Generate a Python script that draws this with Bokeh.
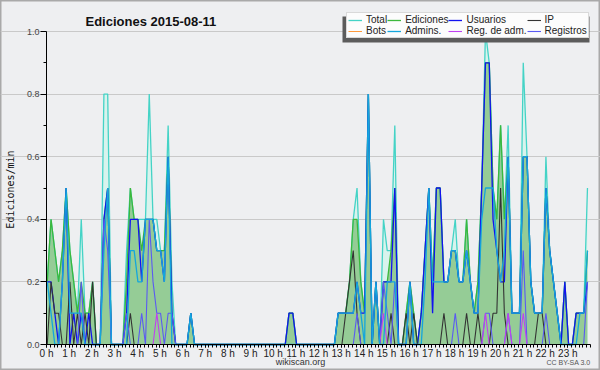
import math
from bokeh.plotting import figure
from bokeh.models import (Range1d, FixedTicker, PrintfTickFormatter, Legend, LegendItem,
                          Label, BoxAnnotation, LinearAxis, Grid)
from bokeh.embed import file_html
from bokeh.resources import INLINE

# ---------------- data: values per 10-minute slot, one row per hour ----------------
TITLE = "Ediciones  2015-08-11"
Y_LABEL = "Ediciones/min"
HOUR_LABELS = [f"{h} h" for h in range(24)]
Z = [0, 0, 0, 0, 0, 0]

TOTAL = [
    [0.2, 0.4, 0.3, 0.2, 0.3, 0.5], [0.3, 0.2, 0.1, 0.4, 0.1, 0.1],
    [0.2, 0.0, 0.0, 0.8, 0.8, 0.0], [0.0, 0.0, 0.0, 0.3, 0.5, 0.4],
    [0.4, 0.4, 0.4, 0.8, 0.4, 0.4], [0.3, 0.3, 0.7, 0.2, 0.0, 0.0],
    [0.0, 0.0, 0.1, 0.0, 0.0, 0.0], Z, Z, Z,
    [0.0, 0.0, 0.0, 0.0, 0.1, 0.1], Z,
    [0.0, 0.0, 0.0, 0.0, 0.0, 0.1], [0.1, 0.1, 0.2, 0.4, 0.5, 0.2],
    [0.1, 0.8, 0.0, 0.2, 0.0, 0.4], [0.3, 0.3, 0.7, 0.0, 0.0, 0.1],
    [0.2, 0.1, 0.0, 0.1, 0.3, 0.5], [0.2, 0.5, 0.5, 0.2, 0.2, 0.3],
    [0.4, 0.2, 0.2, 0.4, 0.2, 0.1], [0.2, 0.5, 1.0, 0.9, 0.5, 0.4],
    [0.7, 0.4, 0.7, 0.1, 0.1, 0.1], [0.9, 0.6, 0.2, 0.1, 0.1, 0.1],
    [0.6, 0.3, 0.2, 0.1, 0.0, 0.2], [0.0, 0.0, 0.1, 0.1, 0.1, 0.5],
]
EDICIONES = [
    [0.2, 0.4, 0.3, 0.2, 0.3, 0.5], [0.3, 0.2, 0.1, 0.2, 0.1, 0.1],
    [0.2, 0.0, 0.0, 0.4, 0.5, 0.0], [0.0, 0.0, 0.0, 0.2, 0.5, 0.4],
    [0.4, 0.3, 0.4, 0.4, 0.4, 0.3], [0.3, 0.3, 0.6, 0.1, 0.0, 0.0],
    [0.0, 0.0, 0.1, 0.0, 0.0, 0.0], Z, Z, Z,
    [0.0, 0.0, 0.0, 0.0, 0.1, 0.1], Z,
    [0.0, 0.0, 0.0, 0.0, 0.0, 0.1], [0.1, 0.1, 0.2, 0.4, 0.4, 0.2],
    [0.1, 0.8, 0.0, 0.2, 0.0, 0.2], [0.2, 0.3, 0.5, 0.0, 0.0, 0.1],
    [0.2, 0.1, 0.0, 0.1, 0.3, 0.5], [0.2, 0.5, 0.5, 0.2, 0.2, 0.3],
    [0.3, 0.2, 0.2, 0.4, 0.2, 0.1], [0.2, 0.5, 0.9, 0.9, 0.5, 0.4],
    [0.7, 0.4, 0.6, 0.1, 0.1, 0.1], [0.6, 0.6, 0.2, 0.1, 0.1, 0.1],
    [0.5, 0.3, 0.2, 0.1, 0.0, 0.2], [0.0, 0.0, 0.1, 0.1, 0.1, 0.3],
]
USUARIOS = [
    [0.2, 0.2, 0.1, 0.0, 0.2, 0.5], [0.0, 0.1, 0.0, 0.1, 0.0, 0.1],
    [0.0, 0.0, 0.0, 0.4, 0.5, 0.0], [0.0, 0.0, 0.0, 0.1, 0.4, 0.4],
    [0.4, 0.2, 0.4, 0.4, 0.4, 0.3], [0.3, 0.2, 0.6, 0.1, 0.0, 0.0],
    [0.0, 0.0, 0.1, 0.0, 0.0, 0.0], Z, Z, Z,
    [0.0, 0.0, 0.0, 0.0, 0.1, 0.1], Z,
    [0.0, 0.0, 0.0, 0.0, 0.0, 0.1], [0.1, 0.1, 0.1, 0.1, 0.2, 0.1],
    [0.1, 0.8, 0.0, 0.2, 0.0, 0.2], [0.2, 0.2, 0.5, 0.0, 0.0, 0.0],
    [0.2, 0.0, 0.0, 0.1, 0.3, 0.5], [0.1, 0.5, 0.5, 0.2, 0.2, 0.3],
    [0.3, 0.2, 0.2, 0.3, 0.2, 0.1], [0.1, 0.5, 0.9, 0.9, 0.4, 0.3],
    [0.2, 0.2, 0.6, 0.1, 0.1, 0.1], [0.6, 0.6, 0.2, 0.1, 0.1, 0.1],
    [0.5, 0.3, 0.2, 0.1, 0.0, 0.2], [0.0, 0.0, 0.1, 0.1, 0.1, 0.2],
]
IP = [
    [0.0, 0.2, 0.1, 0.1, 0.0, 0.0], [0.2, 0.0, 0.1, 0.0, 0.1, 0.0],
    [0.2, 0.0, 0.0, 0.0, 0.0, 0.0], [0.0, 0.0, 0.0, 0.0, 0.1, 0.0],
    Z, Z, Z, Z, Z, Z, Z, Z, Z,
    [0.0, 0.1, 0.2, 0.3, 0.1, 0.0], Z,
    [0.0, 0.1, 0.0, 0.0, 0.0, 0.1], [0.0, 0.1, 0.0, 0.0, 0.0, 0.0],
    [0.0, 0.0, 0.0, 0.1, 0.0, 0.0], [0.0, 0.0, 0.0, 0.1, 0.0, 0.0],
    [0.1, 0.0, 0.0, 0.0, 0.1, 0.1], [0.5, 0.1, 0.0, 0.0, 0.0, 0.0],
    [0.0, 0.0, 0.0, 0.0, 0.1, 0.1], Z, Z,
]
BOTS = [Z] * 24
ADMINS = [
    [0.2, 0.1, 0.0, 0.0, 0.2, 0.5], [0.1, 0.1, 0.1, 0.1, 0.0, 0.0],
    [0.0, 0.0, 0.0, 0.3, 0.5, 0.0], [0.0, 0.0, 0.0, 0.0, 0.3, 0.3],
    [0.2, 0.2, 0.4, 0.4, 0.4, 0.3], [0.3, 0.2, 0.6, 0.0, 0.0, 0.0],
    [0.0, 0.0, 0.1, 0.0, 0.0, 0.0], Z, Z, Z, Z, Z,
    [0.0, 0.0, 0.0, 0.0, 0.0, 0.1], [0.1, 0.1, 0.1, 0.1, 0.2, 0.1],
    [0.0, 0.8, 0.0, 0.2, 0.0, 0.0], [0.2, 0.2, 0.2, 0.0, 0.0, 0.0],
    [0.2, 0.0, 0.0, 0.0, 0.2, 0.5], [0.2, 0.2, 0.2, 0.2, 0.2, 0.3],
    [0.3, 0.2, 0.2, 0.3, 0.2, 0.1], [0.1, 0.4, 0.5, 0.5, 0.5, 0.3],
    [0.2, 0.3, 0.6, 0.1, 0.1, 0.1], [0.6, 0.6, 0.2, 0.1, 0.1, 0.1],
    [0.5, 0.3, 0.2, 0.1, 0.0, 0.0], [0.0, 0.0, 0.0, 0.1, 0.1, 0.3],
]
REG_ADM = [
    Z, Z, Z, Z, [0.0, 0.0, 0.0, 0.0, 0.0, 0.1], Z, Z, Z, Z, Z, Z, Z, Z, Z,
    [0.0, 0.0, 0.0, 0.0, 0.0, 0.1], Z, Z, Z, Z,
    [0.0, 0.0, 0.1, 0.0, 0.0, 0.0], [0.0, 0.0, 0.1, 0.0, 0.0, 0.0],
    [0.1, 0.0, 0.0, 0.0, 0.0, 0.0], Z, Z,
]
REGISTROS = [
    Z, [0.0, 0.0, 0.0, 0.2, 0.0, 0.0],
    [0.0, 0.0, 0.0, 0.4, 0.3, 0.0], [0.0, 0.0, 0.0, 0.1, 0.0, 0.0],
    [0.0, 0.1, 0.0, 0.4, 0.2, 0.1], [0.1, 0.0, 0.1, 0.1, 0.0, 0.0],
    Z, Z, Z, Z, Z, Z, Z,
    [0.0, 0.0, 0.0, 0.0, 0.1, 0.0], [0.0, 0.0, 0.0, 0.0, 0.0, 0.2],
    [0.1, 0.0, 0.2, 0.0, 0.0, 0.0], Z, Z,
    [0.1, 0.0, 0.0, 0.0, 0.0, 0.0], [0.0, 0.0, 0.1, 0.1, 0.0, 0.0],
    [0.0, 0.0, 0.1, 0.0, 0.0, 0.0], [0.3, 0.0, 0.0, 0.0, 0.0, 0.0],
    [0.1, 0.0, 0.0, 0.0, 0.0, 0.0], [0.0, 0.0, 0.0, 0.0, 0.0, 0.2],
]


def flat(rows):
    return [v for r in rows for v in r]


total, ed, users, ip = flat(TOTAL), flat(EDICIONES), flat(USUARIOS), flat(IP)
bots, admins, regadm, regs = flat(BOTS), flat(ADMINS), flat(REG_ADM), flat(REGISTROS)
x = [(i + 0.2) / 6.0 for i in range(len(total))]

# ---------------- geometry (canvas pixels) ----------------
BG = "#eeeff1"
W, H = 600, 370
PL, PR, PT, PB = 46, 590, 31, 344          # where 0 h / 24 h / 1.0 / 0.0 lie
HPP = 24.0 / (PR - PL)                     # hours per pixel
VPP = 1.0 / (PB - PT)                      # value per pixel


def dx(px):
    return (px - PL) * HPP


def dy(py):
    return (PB - py) * VPP


p = figure(width=W, height=H, x_range=Range1d(dx(0), dx(W)), y_range=Range1d(dy(H), dy(0)),
           output_backend="svg", toolbar_location=None,
           x_axis_location=None, y_axis_location=None,
           min_border=0, background_fill_color=BG, border_fill_color=BG,
           outline_line_color="#a9a9a9", outline_line_width=2)
p.xgrid.visible = False
p.ygrid.visible = False

grid = Grid(dimension=1, ticker=FixedTicker(ticks=[0.2, 0.4, 0.6, 0.8, 1.0]),
            bounds=(0, 24), grid_line_color="#c9c9c9")
p.add_layout(grid)

r_total_area = p.varea(x=x, y1=0, y2=total, fill_color="#d8f3ed")
r_ed_area = p.varea(x=x, y1=0, y2=ed, fill_color="#95cc96")
r_total = p.line(x, total, line_color="#44d3c6", line_width=1.3)
r_ed = p.line(x, ed, line_color="#3cb83c", line_width=1.3)
r_users = p.line(x, users, line_color="#1212f0", line_width=1.3)
r_ip = p.line(x, ip, line_color="#333333", line_width=1.1)
r_bots = p.line(x, bots, line_color="#ff9a3c", line_width=1)
r_regs = p.line(x, regs, line_color="#5a5af2", line_width=1.1)
r_regadm = p.line(x, regadm, line_color="#c040f0", line_width=1.1)
r_admins = p.line(x, admins, line_color="#14a6dc", line_width=1.3)

# ---------------- axes fixed at 0 ----------------
xaxis = LinearAxis(fixed_location=0, bounds=(0, 24),
                   ticker=FixedTicker(ticks=list(range(24)), minor_ticks=[i / 6 for i in range(145)]))
xaxis.major_label_overrides = {h: lab for h, lab in enumerate(HOUR_LABELS)}
xaxis.major_tick_in = 0
xaxis.major_tick_out = 3
xaxis.minor_tick_in = 0
xaxis.minor_tick_out = 3
xaxis.major_label_standoff = 0
xaxis.major_label_text_font = "Liberation Sans"
xaxis.major_label_text_font_size = "10px"
xaxis.major_label_text_color = "#222222"

yaxis = LinearAxis(fixed_location=0, bounds=(0, 1),
                   ticker=FixedTicker(ticks=[0, 0.2, 0.4, 0.6, 0.8, 1.0],
                                      minor_ticks=[0.1, 0.3, 0.5, 0.7, 0.9]))
yaxis.formatter = PrintfTickFormatter(format="%.1f")
yaxis.major_tick_in = 0
yaxis.major_tick_out = 6
yaxis.minor_tick_in = 0
yaxis.minor_tick_out = 3
yaxis.major_label_standoff = 1
yaxis.major_label_text_font = "Liberation Sans"
yaxis.major_label_text_font_size = "9px"
yaxis.major_label_text_color = "#444444"

for ax in (xaxis, yaxis):
    ax.axis_line_color = "#000000"
    ax.major_tick_line_color = "#000000"
    ax.minor_tick_line_color = "#000000"

p.add_layout(xaxis, "below")
p.add_layout(yaxis, "left")

# ---------------- title, axis title and footer texts ----------------
p.add_layout(Label(x=dx(85), y=dy(21), text=TITLE, text_align="left",
                   text_baseline="alphabetic", text_font="Liberation Sans",
                   text_font_size="13px", text_font_style="bold", text_color="#111111"))
p.add_layout(Label(x=dx(10), y=dy(189), text=Y_LABEL, angle=math.pi / 2,
                   text_align="center", text_baseline="middle",
                   text_font="DejaVu Sans Mono", text_font_size="10px", text_color="#111111"))
p.add_layout(Label(x=dx(300), y=dy(361), text="wikiscan.org",
                   text_align="center", text_baseline="middle",
                   text_font="Liberation Sans", text_font_size="9px", text_color="#333333"))
p.add_layout(Label(x=dx(590), y=dy(362), text="CC BY-SA 3.0",
                   text_align="right", text_baseline="middle",
                   text_font="Liberation Sans", text_font_size="7px", text_color="#555555"))

# ---------------- legend with a drop shadow ----------------
LX0, LY0, LX1, LY1 = 346, 12, 593, 38      # legend box on the canvas
shadow = BoxAnnotation(left=dx(LX0 - 4), right=dx(LX1 - 4), top=dy(LY0 + 4), bottom=dy(LY1 + 4),
                       fill_color="#5c5c5c", fill_alpha=1, line_color=None)
p.add_layout(shadow)

items = [
    LegendItem(label="Total", renderers=[r_total]),
    LegendItem(label="Ediciones", renderers=[r_ed]),
    LegendItem(label="Usuarios", renderers=[r_users]),
    LegendItem(label="IP", renderers=[r_ip]),
    LegendItem(label="Bots", renderers=[r_bots]),
    LegendItem(label="Admins.", renderers=[r_admins]),
    LegendItem(label="Reg. de adm.", renderers=[r_regadm]),
    LegendItem(label="Registros", renderers=[r_regs]),
]
legend = Legend(items=items, location=(LX0, H - LY1), orientation="horizontal", nrows=2,
                background_fill_color="#fcfcfc", background_fill_alpha=1,
                border_line_color="#b5b5b5", border_line_width=1,
                label_text_font="Liberation Sans", label_text_font_size="10px",
                label_text_color="#222222", label_text_line_height=1.0,
                glyph_width=14, glyph_height=8, label_height=10, label_standoff=4,
                spacing=0, padding=1, margin=0)
p.add_layout(legend)

open("out.html", "w").write(file_html(p, INLINE))
